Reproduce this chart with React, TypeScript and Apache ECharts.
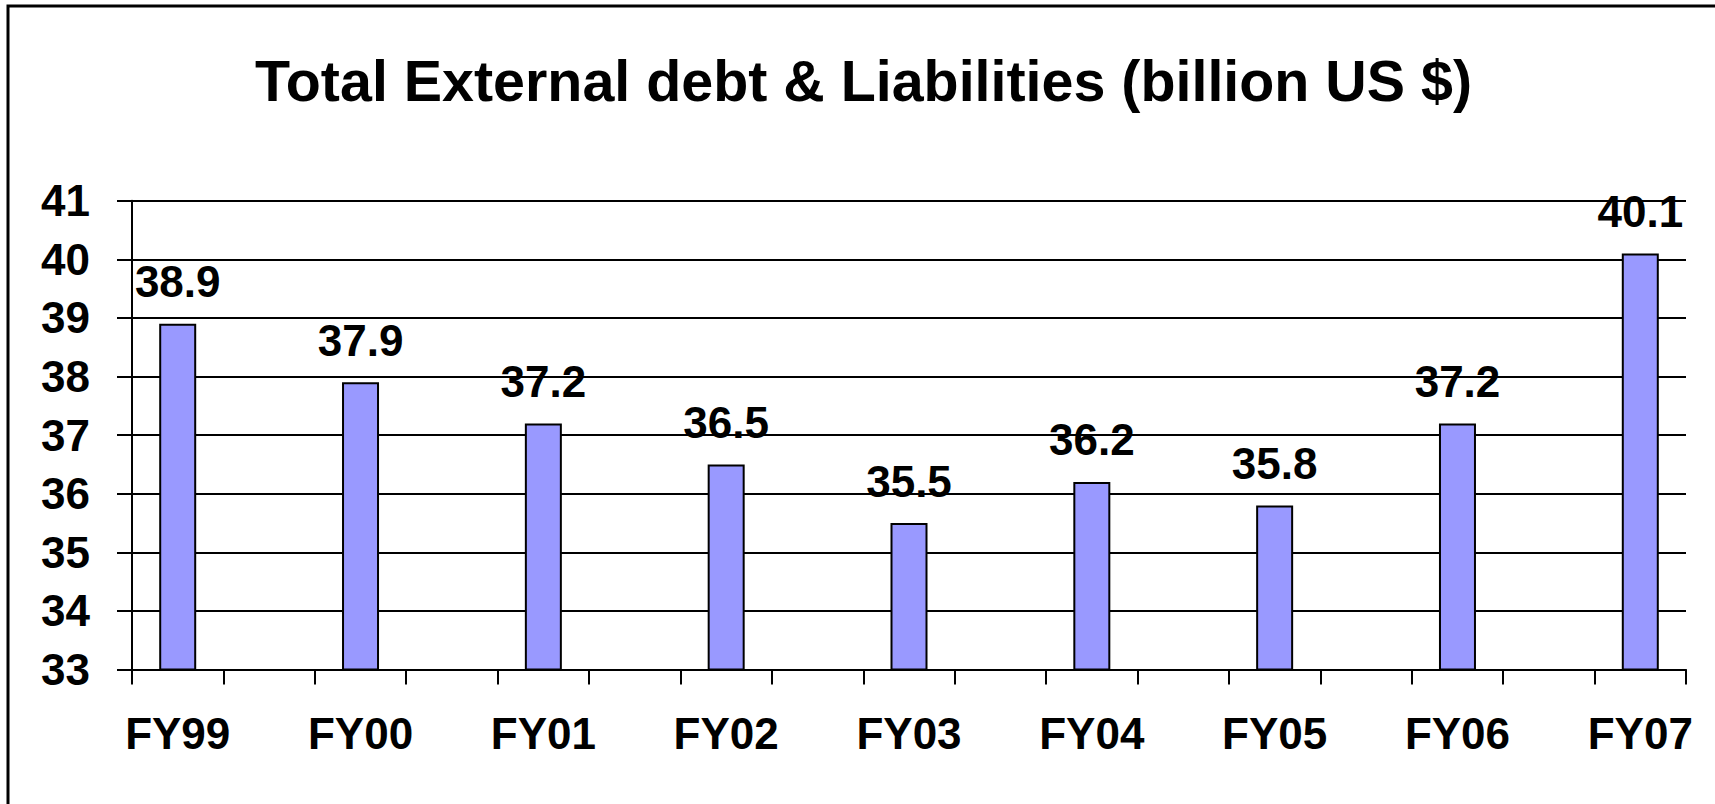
import React, { useEffect, useRef } from "react";
import * as echarts from "echarts";

const categories = ["FY99", "", "FY00", "", "FY01", "", "FY02", "", "FY03", "", "FY04", "", "FY05", "", "FY06", "", "FY07"];
const values: (number | null)[] = [38.9, null, 37.9, null, 37.2, null, 36.5, null, 35.5, null, 36.2, null, 35.8, null, 37.2, null, 40.1];
const yMin = 33;
const yMax = 41;
const titleText = "Total External debt & Liabilities (billion US $)";

const FONT = "'Liberation Sans', Arial, sans-serif";

export default function App() {
  const ref = useRef<HTMLDivElement>(null);
  useEffect(() => {
    if (!ref.current) return;
    const chart = echarts.init(ref.current, undefined, { renderer: "svg" });
    chart.setOption({
      animation: false,
      backgroundColor: "#ffffff",
      title: {
        text: titleText,
        left: 250,
        top: 47,
        textStyle: { fontFamily: FONT, fontSize: 57.4, fontWeight: "bold", color: "#000" },
      },
      graphic: [
        {
          type: "rect",
          shape: { x: 8, y: 6, width: 1720, height: 820 },
          style: { fill: "none", stroke: "#000", lineWidth: 3 },
          silent: true,
        },
      ],
      grid: { left: 132, right: 29, top: 200.7, bottom: 134.5 },
      xAxis: {
        type: "category",
        data: categories,
        boundaryGap: true,
        axisLine: { lineStyle: { color: "#000", width: 2 } },
        axisTick: { show: true, length: 15, interval: 0, lineStyle: { color: "#000", width: 2 } },
        axisLabel: {
          interval: 0,
          margin: 42,
          fontFamily: FONT,
          fontSize: 44,
          fontWeight: "bold",
          color: "#000",
        },
      },
      yAxis: {
        type: "value",
        min: yMin,
        max: yMax,
        interval: 1,
        axisLine: { show: true, lineStyle: { color: "#000", width: 2 } },
        axisTick: { show: true, length: 15, lineStyle: { color: "#000", width: 2 } },
        splitLine: { show: true, lineStyle: { color: "#000", width: 2 } },
        axisLabel: {
          margin: 42,
          fontFamily: FONT,
          fontSize: 44,
          fontWeight: "bold",
          color: "#000",
        },
      },
      series: [
        {
          type: "bar",
          data: values,
          barWidth: 37,
          itemStyle: { color: "#9999FF", borderColor: "#000", borderWidth: 2 },
          label: {
            show: true,
            position: "top",
            distance: 20,
            fontFamily: FONT,
            fontSize: 44,
            fontWeight: "bold",
            color: "#000",
          },
        },
      ],
    });
    return () => chart.dispose();
  }, []);
  return (
    <div
      ref={ref}
      style={{ position: "absolute", left: 0, top: 0, width: 1715, height: 804 }}
    />
  );
}
